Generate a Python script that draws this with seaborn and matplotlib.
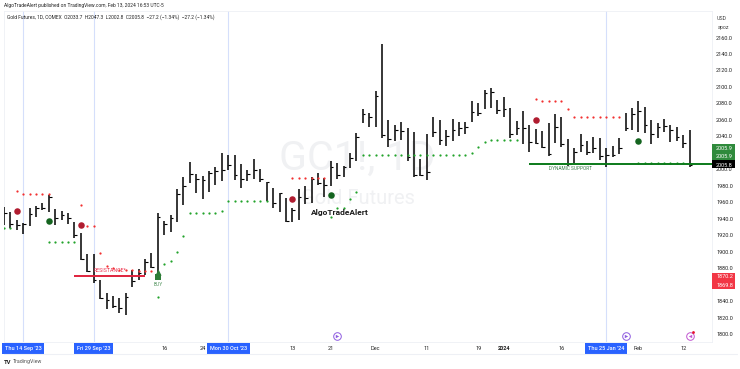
import seaborn as sns
import matplotlib.pyplot as plt
from matplotlib.patches import Rectangle
from matplotlib.lines import Line2D

# daily bars (high, low, close)
highs = [1954.6, 1947.7, 1938.4, 1934.4, 1952.6, 1955.8, 1958.6, 1968.8, 1951.8, 1949.3, 1946.5, 1935.6,
         1922.2, 1896.7, 1897.1, 1865.6, 1849.4, 1846.5, 1843.3, 1849.4, 1877.7, 1878.9, 1890.7, 1897.9,
         1946.5, 1937.2, 1944.5, 1976.0, 1990.2, 2009.2, 1994.3, 1991.8, 1998.3, 2003.2, 2019.3, 2017.3,
         2017.3, 2006.0, 1999.1, 2012.1, 2000.4, 1985.0, 1977.7, 1971.7, 1965.6, 1953.5, 1975.7, 1980.2,
         1991.1, 1996.0, 1989.1, 2010.1, 2008.1, 2004.4, 2019.4, 2043.7, 2072.8, 2068.0, 2095.5, 2152.2,
         2059.9, 2053.8, 2057.5, 2050.6, 2045.7, 2012.1, 2042.9, 2063.1, 2059.9, 2047.7, 2061.1, 2057.0,
         2057.9, 2083.0, 2080.1, 2096.3, 2098.3, 2084.2, 2088.1, 2074.8, 2058.6, 2071.1, 2053.7, 2048.9,
         2046.5, 2056.6, 2067.1, 2063.0, 2036.7, 2025.4, 2042.4, 2034.3, 2039.6, 2037.5, 2025.4, 2028.2,
         2037.5, 2067.9, 2074.8, 2083.3, 2075.2, 2059.8, 2055.8, 2061.0, 2053.7, 2051.7, 2041.6, 2047.7]
lows = [1932.3, 1928.3, 1926.3, 1921.0, 1931.1, 1942.5, 1950.6, 1948.5, 1932.3, 1938.4, 1933.1, 1917.0,
        1889.8, 1874.9, 1861.5, 1842.5, 1830.4, 1831.2, 1825.9, 1823.1, 1857.5, 1865.6, 1871.6, 1880.5,
        1869.6, 1920.2, 1924.2, 1935.6, 1956.2, 1983.7, 1970.8, 1964.3, 1972.8, 1980.9, 1985.8, 1999.1,
        1987.0, 1977.7, 1985.8, 1988.6, 1984.2, 1961.5, 1952.6, 1947.8, 1936.5, 1936.5, 1938.5, 1957.9,
        1958.7, 1981.0, 1966.8, 1980.2, 1988.3, 1990.3, 2001.2, 2010.5, 2055.8, 2051.0, 2051.8, 2037.6,
        2027.5, 2034.8, 2035.6, 2010.5, 1991.1, 1991.9, 1987.0, 2038.8, 2029.5, 2028.7, 2034.8, 2040.5,
        2042.9, 2057.9, 2064.7, 2072.8, 2074.1, 2067.2, 2063.9, 2037.5, 2041.6, 2030.7, 2021.4, 2030.7,
        2025.4, 2016.5, 2032.3, 2027.4, 2004.0, 2007.2, 2021.4, 2017.3, 2020.2, 2011.2, 2003.2, 2015.3,
        2018.1, 2046.9, 2047.7, 2045.6, 2043.6, 2030.3, 2038.4, 2045.6, 2033.5, 2034.3, 2025.4, 2003.2]
closes = [1946.5, 1933.1, 1932.3, 1933.1, 1945.3, 1952.6, 1953.4, 1966.7, 1940.4, 1944.5, 1940.4, 1920.2,
          1891.0, 1876.5, 1865.6, 1844.1, 1841.3, 1834.4, 1832.0, 1845.3, 1864.3, 1873.7, 1887.8, 1881.8,
          1942.5, 1933.1, 1940.4, 1969.6, 1980.1, 1994.3, 1987.8, 1987.0, 1995.9, 1997.9, 1999.1, 2005.2,
          1993.0, 1987.8, 1994.3, 1999.1, 1987.8, 1984.2, 1958.7, 1970.9, 1937.3, 1950.6, 1966.8, 1964.8,
          1987.8, 1983.0, 1981.0, 2003.2, 1993.1, 2003.2, 2013.3, 2039.7, 2067.2, 2063.1, 2089.0, 2041.7,
          2036.4, 2047.7, 2046.5, 2015.4, 1993.1, 1993.1, 1997.2, 2045.7, 2035.6, 2040.5, 2047.7, 2049.8,
          2051.0, 2070.0, 2068.8, 2093.1, 2094.3, 2072.0, 2073.2, 2042.4, 2049.7, 2049.7, 2033.5, 2032.3,
          2027.4, 2018.5, 2051.7, 2030.7, 2006.0, 2021.4, 2029.5, 2021.4, 2026.2, 2016.1, 2017.3, 2017.3,
          2025.4, 2049.7, 2067.1, 2071.1, 2053.7, 2042.8, 2051.7, 2052.5, 2047.7, 2038.8, 2032.3, 2005.2]
bars = list(range(len(highs)))

# stop dots
red_x = [2, 3, 4, 5, 6, 7, 12, 13, 14, 15, 16, 17, 18, 19, 20, 21, 22, 23,
         45, 46, 47, 48, 49, 50, 83, 84, 85, 86, 87, 88, 89, 90, 91, 92, 93, 94, 95, 96]
red_y = [1973.6, 1969.6, 1969.6, 1969.6, 1969.6, 1969.6, 1956.6, 1931.1, 1931.1, 1898.7, 1883.0, 1880.5,
         1877.7, 1877.7, 1877.7, 1876.9, 1876.9, 1876.9,
         1989.1, 1989.1, 1989.1, 1989.1, 1989.1, 1989.1, 2085.7, 2083.3, 2083.3, 2083.3, 2083.3, 2073.2,
         2063.0, 2063.0, 2063.0, 2063.0, 2063.0, 2063.0, 2063.0, 2063.0]
green_x = [0, 1, 7, 8, 9, 10, 11, 24, 25, 26, 27, 28, 29, 30, 31, 32, 33, 34, 35, 36, 37, 38, 39, 40, 41,
           51, 52, 53, 54, 55, 56, 57, 58, 59, 60, 61, 62, 63, 64, 65, 66, 67, 68, 69, 70, 71, 72, 73, 74, 75,
           76, 77, 78, 79, 80, 99, 100, 101, 102, 103, 104, 105, 106]
green_y = [1929.1, 1929.1, 1912.1, 1912.1, 1912.1, 1912.1, 1912.1, 1845.3, 1885.0, 1888.6, 1899.2, 1919.4,
           1946.5, 1946.5, 1946.5, 1946.5, 1946.5, 1949.3, 1961.9, 1961.9, 1961.9, 1961.9, 1961.9, 1961.9, 1961.9,
           1942.5, 1952.6, 1953.5, 1964.0, 1972.9, 2017.4, 2017.4, 2017.4, 2017.4, 2017.4, 2017.4, 2017.4, 2017.4,
           2017.4, 2017.4, 2017.4, 2017.4, 2017.4, 2017.4, 2017.4, 2017.4, 2017.4, 2020.2, 2026.7, 2033.6,
           2035.3, 2035.3, 2035.3, 2035.3, 2035.3, 2007.6, 2007.6, 2007.6, 2007.6, 2007.6, 2007.6, 2007.6, 2007.6]

# signal circles
sell_x = [2, 12, 45, 83]
sell_y = [1949.3, 1932.7, 1964.4, 2059.8]
buy_x = [7, 51, 99]
buy_y = [1937.2, 1968.4, 2034.7]

tick_pos = [3, 14, 25, 31, 35, 45, 51, 58, 66, 74, 78, 87, 94, 99, 106]
tick_labels = ["Thu 14 Sep '23", "Fri 29 Sep '23", "16", "24", "Mon 30 Oct '23", "13", "21", "Dec", "11", "19",
               "2024", "16", "Thu 25 Jan '24", "Feb", "12"]
marked_dates = [3, 14, 35, 94]
price_ticks = list(range(1800, 2161, 20))
hidden_prices = [1860, 2020]  # covered by the last price boxes
event_x = [52, 97, 107]

sns.set_theme(style="white")
plt.rcParams['font.family'] = ['Roboto', 'DejaVu Sans']

fig = plt.figure(figsize=(7.4, 3.69), dpi=100)
ax = fig.add_axes([4 / 740, 1 - 342 / 369, 708 / 740, 331 / 369])

ax.set_xlim(0, 110.5)
ax.set_ylim(1790.3, 2192.2)

for d in marked_dates:
    ax.axvline(d, color="#d5dffb", lw=0.8, zorder=0)

# watermark
ax.text(55.2, 2013.7, "GC1!, 1D", fontsize=29.5, color="#f0f1f3", ha="center", va="center", zorder=0)
ax.text(55.2, 1964, "Gold Futures", fontsize=14.5, color="#f0f1f3", ha="center", va="center", zorder=0)

# ohlc bars
ax.vlines(bars, lows, highs, color="black", lw=1.1, zorder=3)
ax.hlines(closes, [b for b in bars], [b + 0.42 for b in bars], color="black", lw=0.8, zorder=3)

sns.scatterplot(x=red_x, y=red_y, ax=ax, color="#f23030", s=2.6, linewidth=0, zorder=4)
sns.scatterplot(x=green_x, y=green_y, ax=ax, color="#22a32c", s=2.6, linewidth=0, zorder=4)
sns.scatterplot(x=sell_x, y=sell_y, ax=ax, color="#b01c30", s=22, linewidth=0, zorder=5)
sns.scatterplot(x=buy_x, y=buy_y, ax=ax, color="#14641f", s=22, linewidth=0, zorder=5)

# drawn levels
ax.hlines(1870, 11, 22, color="#e0213c", lw=1.4, zorder=4)
ax.hlines(2006, 82, 110.5, color="#0b7a1a", lw=1.4, zorder=4)
ax.text(16.6, 1877, "RESISTANCE*", fontsize=3.8, color="#ee3350", ha="center", va="center", zorder=6)
ax.text(88.4, 2000.7, "DYNAMIC SUPPORT", fontsize=3.4, color="#3c7f4c", ha="center", va="center", zorder=6)
ax.text(52.4, 1948, "AlgoTradeAlert", fontsize=6.0, color="#1a1a1a", weight="bold", ha="center", va="center", zorder=6)

# buy arrow
ax.scatter([24], [1869], marker="s", s=14, color="#2e7d38", linewidth=0, zorder=6)
ax.scatter([24], [1875], marker="^", s=20, color="#2e7d38", linewidth=0, zorder=6)
ax.text(24, 1863, "BUY", fontsize=3.5, color="#4c8f58", ha="center", va="top", zorder=6)

# event icons on the time axis
ax.scatter(event_x[:2], [1797, 1797], s=30, facecolor="white", edgecolor="#8e5be0", linewidth=0.7, zorder=6)
ax.scatter(event_x[2:], [1797], s=30, facecolor="white", edgecolor="#c055d0", linewidth=0.7, zorder=6)
ax.scatter(event_x[:2], [1797, 1797], s=6, marker=">", color="#8e5be0", linewidth=0, zorder=7)
ax.scatter(event_x[2:], [1797], s=6, marker="<", color="#c055d0", linewidth=0, zorder=7)
ax.scatter([107.5], [1802], s=4, color="#e8102a", linewidth=0, zorder=8)

# price scale
ax.yaxis.tick_right()
ax.set_yticks(price_ticks)
ax.set_yticklabels(["" if p in hidden_prices else f"{p}.0" for p in price_ticks])
ax.tick_params(axis="y", length=0, pad=3.0, labelsize=4.0, labelcolor="#222222")

# time scale
ax.set_xticks(tick_pos)
ax.set_xticklabels(tick_labels)
ax.tick_params(axis="x", length=0, pad=2.7, labelsize=4.0, labelcolor="#222222")
for pos, lab in zip(tick_pos, ax.get_xticklabels()):
    if pos in marked_dates:
        lab.set_color("white")
        lab.set_fontweight("medium")
        lab.set_bbox(dict(facecolor="#2962ff", edgecolor="none", pad=2.0))
    if lab.get_text() == "2024":
        lab.set_fontweight("bold")

for side in ax.spines:
    ax.spines[side].set_color("#eef0f5")
    ax.spines[side].set_linewidth(0.6)

# last price boxes on the scale
tr = ax.get_yaxis_transform()
box_w = 23 / 708
boxes = [(2011.3, 19.4, "#2f8a3c"), (2001.0, 10.3, "black"), (1854.6, 20.0, "#f23645")]
for y0, h, col in boxes:
    ax.add_patch(Rectangle((1, y0), box_w, h, transform=tr, color=col, lw=0, clip_on=False, zorder=8))
for y, txt in [(2025, "2005.9"), (2015, "2005.9"), (2005.2, "2005.8"), (1869.6, "1870.2"), (1859.5, "1869.8")]:
    ax.text(1 + 12.5 / 708, y, txt, transform=tr, fontsize=4.0, color="white", ha="center", va="center",
            clip_on=False, zorder=9)

fig.text(722 / 740, 1 - 18 / 369, "USD", fontsize=3.8, color="#444444", ha="center", va="center")
fig.text(723 / 740, 1 - 27 / 369, "apoz", fontsize=3.8, color="#444444", ha="center", va="center")

fig.text(4 / 740, 1 - 6 / 369, "AlgoTradeAlert published on TradingView.com, Feb 13, 2024 16:53 UTC-5",
         fontsize=3.5, color="#222222", va="center")
fig.text(7 / 740, 1 - 17 / 369,
         "Gold Futures, 1D, COMEX  O2033.7  H2047.3  L2002.8  C2005.8  \u221227.2 (\u22121.34%)  \u221227.2 (\u22121.34%)",
         fontsize=3.5, color="#222222", va="center")
fig.text(4 / 740, 1 - 362 / 369, "TV", fontsize=4.2, weight="bold", color="#222222", va="center")
fig.text(13 / 740, 1 - 362 / 369, "TradingView", fontsize=3.8, color="#555555", va="center")
fig.add_artist(Line2D([4 / 740, 737 / 740], [1 - 354 / 369, 1 - 354 / 369], color="#eef0f5", lw=0.8))

fig.savefig("out.png", dpi=100)
